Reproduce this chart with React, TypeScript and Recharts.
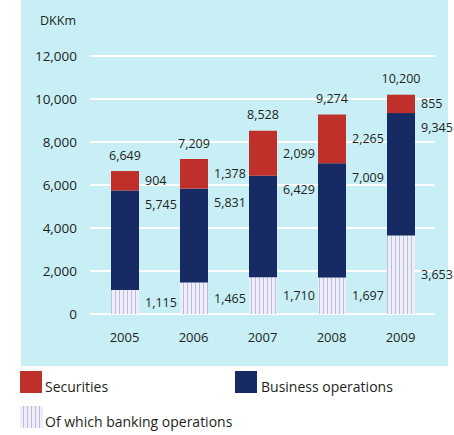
import React from 'react';
import { BarChart, Bar, XAxis, YAxis, CartesianGrid, LabelList } from 'recharts';

const years = ['2005', '2006', '2007', '2008', '2009'];
const banking = [1115, 1465, 1710, 1697, 3653];
const business = [5745, 5831, 6429, 7009, 9345];
const securities = [904, 1378, 2099, 2265, 855];
const totals = [6649, 7209, 8528, 9274, 10200];
const yTicks = [0, 2000, 4000, 6000, 8000, 10000, 12000];
const legendNames = ['Securities', 'Business operations', 'Of which banking operations'];

const RED = '#c0302a';
const NAVY = '#172a63';
const CYAN = '#c8eff5';
const TEXT = '#231f20';
const FONT = '"Open Sans", "Noto Sans", sans-serif';

const data = years.map((y, i) => ({
  year: y,
  banking: banking[i],
  businessRest: business[i] - banking[i],
  securities: securities[i],
  bankingLabel: banking[i],
  businessLabel: business[i],
  securitiesLabel: securities[i],
  totalLabel: totals[i],
}));

const fmt = (v: number) => v.toLocaleString('en-US');

const SideLabel = (mode: 'mid' | 'top') => (props: any) => {
  const { x, y, width, height, value } = props;
  const ty = mode === 'mid' ? y + height / 2 : y + 14;
  return (
    <text x={x + width + 6} y={ty} fill={TEXT} fontSize={12.5} fontFamily={FONT} dominantBaseline="central" textAnchor="start">
      {fmt(value)}
    </text>
  );
};

const TotalLabel = (props: any) => {
  const { x, y, width, value } = props;
  return (
    <text x={x + width / 2} y={y - 16} fill={TEXT} fontSize={12.5} fontFamily={FONT} dominantBaseline="central" textAnchor="middle">
      {fmt(value)}
    </text>
  );
};

export default function App() {
  return (
    <div style={{ position: 'absolute', left: 0, top: 0, width: 454, height: 435, fontFamily: FONT, color: TEXT }}>
      <div style={{ position: 'absolute', left: 21, top: 0, width: 427, height: 366, background: CYAN }} />
      <div style={{ position: 'absolute', left: 40, top: 12, fontSize: 12.5, lineHeight: '17px' }}>DKKm</div>
      <div style={{ position: 'absolute', left: 0, top: 0 }}>
        <BarChart width={454} height={366} data={data} margin={{ top: 56, right: 19, left: 0, bottom: 22 }} barSize={28}>
          <defs>
            <pattern id="stripes" patternUnits="userSpaceOnUse" width="4" height="4">
              <rect x="0" y="0" width="4" height="4" fill="#eeeef8" />
              <rect x="3" y="0" width="1" height="4" fill="#bdbde0" />
            </pattern>
          </defs>
          <CartesianGrid vertical={false} stroke="#ffffff" strokeWidth={2} />
          <XAxis dataKey="year" height={30} axisLine={false} tickLine={false} tickSize={0} tickMargin={19}
            tick={{ fill: TEXT, fontSize: 13, fontFamily: FONT }} />
          <YAxis width={90} domain={[0, 12000]} ticks={yTicks} axisLine={false} tickLine={false} tickSize={0} tickMargin={13}
            tickFormatter={fmt} tick={{ fill: TEXT, fontSize: 13.5, fontFamily: FONT }} />
          <Bar dataKey="banking" stackId="a" fill="url(#stripes)" isAnimationActive={false}>
            <LabelList dataKey="bankingLabel" content={SideLabel('mid')} />
          </Bar>
          <Bar dataKey="businessRest" stackId="a" fill={NAVY} isAnimationActive={false}>
            <LabelList dataKey="businessLabel" content={SideLabel('top')} />
          </Bar>
          <Bar dataKey="securities" stackId="a" fill={RED} isAnimationActive={false}>
            <LabelList dataKey="securitiesLabel" content={SideLabel('mid')} />
            <LabelList dataKey="totalLabel" content={TotalLabel} />
          </Bar>
        </BarChart>
      </div>
      <div style={{ position: 'absolute', left: 20, top: 371, width: 22, height: 22, background: RED }} />
      <div style={{ position: 'absolute', left: 45, top: 378, fontSize: 14, lineHeight: '18px' }}>{legendNames[0]}</div>
      <div style={{ position: 'absolute', left: 235, top: 371, width: 22, height: 22, background: NAVY }} />
      <div style={{ position: 'absolute', left: 261, top: 378, fontSize: 14, lineHeight: '18px' }}>{legendNames[1]}</div>
      <div style={{ position: 'absolute', left: 20, top: 406, width: 23, height: 22,
        background: 'repeating-linear-gradient(90deg, #eeeef8 0px, #eeeef8 3px, #bdbde0 3px, #bdbde0 4px)' }} />
      <div style={{ position: 'absolute', left: 45, top: 413, fontSize: 14, lineHeight: '18px' }}>{legendNames[2]}</div>
    </div>
  );
}
